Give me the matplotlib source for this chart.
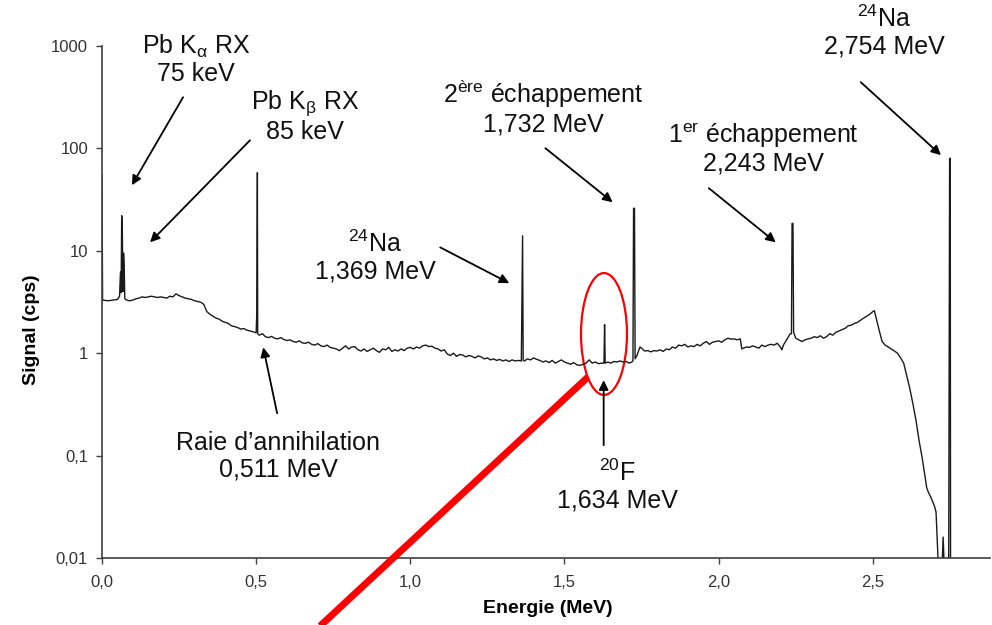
import matplotlib
matplotlib.use('Agg')
import matplotlib.pyplot as plt
from matplotlib.patches import Ellipse
from matplotlib.lines import Line2D

plt.rcParams['font.family'] = ['Liberation Sans', 'DejaVu Sans']
plt.rcParams['mathtext.fontset'] = 'custom'
plt.rcParams['mathtext.rm'] = 'Liberation Sans'
plt.rcParams['mathtext.it'] = 'Liberation Sans:italic'
plt.rcParams['mathtext.bf'] = 'Liberation Sans:bold'
plt.rcParams['mathtext.default'] = 'regular'

# spectre gamma (energie en MeV, signal en cps)
energie = [
    0.000, 0.002, 0.020, 0.035, 0.050, 0.057, 0.060, 0.062, 0.064, 0.066, 0.068, 0.070, 0.072, 0.074,
    0.080, 0.090, 0.100, 0.110, 0.120, 0.130, 0.140, 0.150, 0.160, 0.170, 0.180, 0.190, 0.200, 0.210,
    0.220, 0.230, 0.240, 0.250, 0.260, 0.270, 0.280, 0.290, 0.300, 0.310, 0.320, 0.330, 0.340, 0.350,
    0.360, 0.370, 0.380, 0.390, 0.400, 0.410, 0.420, 0.430, 0.440, 0.450, 0.460, 0.470, 0.480, 0.490,
    0.500, 0.502, 0.503, 0.504, 0.505, 0.510, 0.520, 0.530, 0.540, 0.550, 0.560, 0.570, 0.580, 0.590,
    0.600, 0.610, 0.620, 0.630, 0.640, 0.650, 0.660, 0.670, 0.680, 0.690, 0.700, 0.710, 0.720, 0.730,
    0.740, 0.750, 0.760, 0.770, 0.780, 0.790, 0.800, 0.810, 0.820, 0.830, 0.840, 0.850, 0.860, 0.870,
    0.880, 0.890, 0.900, 0.910, 0.920, 0.930, 0.940, 0.950, 0.960, 0.970, 0.980, 0.990, 1.000, 1.010,
    1.020, 1.030, 1.040, 1.050, 1.060, 1.070, 1.080, 1.090, 1.100, 1.110, 1.120, 1.130, 1.140, 1.150,
    1.160, 1.170, 1.180, 1.190, 1.200, 1.210, 1.220, 1.230, 1.240, 1.250, 1.260, 1.270, 1.280, 1.290,
    1.300, 1.310, 1.320, 1.330, 1.340, 1.350, 1.360, 1.362, 1.364, 1.366, 1.370, 1.380, 1.390, 1.400,
    1.410, 1.420, 1.430, 1.440, 1.450, 1.460, 1.470, 1.480, 1.490, 1.500, 1.510, 1.520, 1.530, 1.540,
    1.550, 1.560, 1.570, 1.580, 1.590, 1.600, 1.610, 1.620, 1.628, 1.630, 1.632, 1.640, 1.650, 1.660,
    1.670, 1.680, 1.690, 1.700, 1.710, 1.718, 1.722, 1.724, 1.727, 1.729, 1.735, 1.740, 1.745, 1.750,
    1.760, 1.770, 1.780, 1.790, 1.800, 1.810, 1.820, 1.830, 1.840, 1.850, 1.860, 1.870, 1.880, 1.890,
    1.900, 1.910, 1.920, 1.930, 1.940, 1.950, 1.960, 1.970, 1.980, 1.990, 2.000, 2.010, 2.020, 2.030,
    2.040, 2.050, 2.060, 2.070, 2.075, 2.080, 2.090, 2.100, 2.110, 2.120, 2.130, 2.140, 2.150, 2.160,
    2.170, 2.180, 2.190, 2.200, 2.205, 2.210, 2.220, 2.232, 2.236, 2.238, 2.241, 2.243, 2.250, 2.260,
    2.270, 2.280, 2.290, 2.300, 2.310, 2.320, 2.330, 2.340, 2.350, 2.360, 2.370, 2.380, 2.390, 2.400,
    2.410, 2.420, 2.430, 2.440, 2.450, 2.460, 2.470, 2.480, 2.490, 2.500, 2.505, 2.520, 2.530, 2.540,
    2.550, 2.560, 2.570, 2.580, 2.590, 2.600, 2.610, 2.620, 2.630, 2.640, 2.650, 2.660, 2.670, 2.675,
    2.680, 2.690, 2.700, 2.705, 2.712, 2.725, 2.728, 2.731, 2.746, 2.747, 2.748, 2.749, 2.751, 2.752,
]
signal = [
    55, 3.3, 3.25, 3.3, 3.35, 3.6, 6.2, 3.9, 22, 16, 4.0, 9.5, 7.3, 3.4,
    3.3, 3.25, 3.3, 3.4, 3.45, 3.55, 3.5, 3.55, 3.6, 3.55, 3.5, 3.55, 3.5, 3.45,
    3.6, 3.55, 3.8, 3.65, 3.55, 3.45, 3.4, 3.35, 3.25, 3.2, 3.15, 3.0, 2.55, 2.4,
    2.3, 2.2, 2.15, 2.05, 2.0, 1.95, 1.85, 1.82, 1.78, 1.72, 1.74, 1.68, 1.65, 1.62,
    1.58, 2.45, 16, 58, 1.55, 1.5, 1.55, 1.45, 1.42, 1.46, 1.4, 1.38, 1.42, 1.36,
    1.33, 1.35, 1.3, 1.28, 1.32, 1.26, 1.25, 1.28, 1.22, 1.2, 1.24, 1.18, 1.16, 1.2,
    1.14, 1.12, 1.1, 1.06, 1.12, 1.18, 1.1, 1.15, 1.16, 1.08, 1.05, 1.1, 1.04, 1.08,
    1.12, 1.06, 1.02, 1.1, 1.08, 1.14, 1.04, 1.08, 1.05, 1.1, 1.06, 1.12, 1.14, 1.1,
    1.15, 1.12, 1.18, 1.2, 1.16, 1.17, 1.12, 1.1, 1.05, 1.08, 0.98, 0.95, 1.0, 0.93,
    0.97, 0.96, 0.92, 0.95, 0.93, 0.9, 0.94, 0.92, 0.88, 0.9, 0.86, 0.88, 0.85, 0.87,
    0.84, 0.86, 0.83, 0.86, 0.84, 0.85, 0.84, 3.3, 14, 0.85, 0.84, 0.88, 0.86, 0.9,
    0.87, 0.85, 0.82, 0.84, 0.81, 0.85, 0.8, 0.83, 0.86, 0.82, 0.8, 0.78, 0.81, 0.77,
    0.76, 0.78, 0.8, 0.86, 0.8, 0.82, 0.79, 0.8, 0.8, 1.9, 0.8, 0.82, 0.8, 0.83,
    0.82, 0.84, 0.82, 0.83, 0.8, 0.82, 0.84, 26, 26, 0.88, 0.95, 1.05, 1.15, 1.12,
    1.05, 1.06, 1.03, 1.06, 1.05, 1.08, 1.04, 1.1, 1.08, 1.15, 1.12, 1.2, 1.18, 1.22,
    1.15, 1.18, 1.16, 1.22, 1.18, 1.25, 1.3, 1.22, 1.28, 1.3, 1.32, 1.28, 1.35, 1.4,
    1.37, 1.38, 1.35, 1.38, 1.1, 1.12, 1.15, 1.14, 1.18, 1.15, 1.12, 1.2, 1.16, 1.2,
    1.22, 1.2, 1.25, 1.15, 1.08, 1.2, 1.35, 1.55, 1.55, 18.5, 18.5, 1.6, 1.4, 1.35,
    1.3, 1.35, 1.38, 1.4, 1.45, 1.42, 1.48, 1.4, 1.45, 1.55, 1.5, 1.6, 1.65, 1.7,
    1.75, 1.85, 1.88, 1.95, 2.0, 2.1, 2.2, 2.3, 2.4, 2.55, 2.6, 1.7, 1.3, 1.2,
    1.15, 1.1, 1.05, 1.0, 0.9, 0.8, 0.6, 0.45, 0.32, 0.22, 0.14, 0.095, 0.06, 0.048,
    0.044, 0.038, 0.032, 0.028, 0.009, 0.009, 0.016, 0.009, 0.009, 0.17, 4.0, 80, 80, 0.009,
]

yticks = [0.01, 0.1, 1, 10, 100, 1000]
ytick_labels = ['0,01', '0,1', '1', '10', '100', '1000']
xticks = [0.0, 0.5, 1.0, 1.5, 2.0, 2.5]
xtick_labels = ['0,0', '0,5', '1,0', '1,5', '2,0', '2,5']

fig = plt.figure(figsize=(9.92, 6.25), dpi=100)
ax = fig.add_axes([0.1028, 0.1072, 0.8952, 0.8192])

ax.plot(energie, signal, color='#1a1a1a', lw=1.0)

ax.set_yscale('log')
ax.set_ylim(0.01, 1000)
ax.set_xlim(0, 2.88)
ax.set_yticks(yticks)
ax.set_yticklabels(ytick_labels)
ax.set_xticks(xticks)
ax.set_xticklabels(xtick_labels)
ax.minorticks_off()

for s in ['top', 'right']:
    ax.spines[s].set_visible(False)
for s in ['left', 'bottom']:
    ax.spines[s].set_color('#404040')
    ax.spines[s].set_linewidth(1.2)
ax.tick_params(axis='both', direction='out', length=4, width=1, color='#404040',
               labelsize=12, labelcolor='#333333')
ax.tick_params(axis='x', pad=8)
ax.tick_params(axis='y', pad=6)

ax.set_ylabel('Signal (cps)', fontsize=14, fontweight='bold', va='center')
ax.yaxis.set_label_coords(-0.079, 0.445)
ax.set_xlabel('Energie (MeV)', fontsize=14, fontweight='bold', va='center')
ax.xaxis.set_label_coords(0.502, -0.0996)

# etiquettes et fleches (texte, debut de fleche, pointe)
notes = [
    ('Pb K$_{\\alpha}$ RX\n75 keV', (0.305, 743), (0.263, 316), (0.097, 43.7)),
    ('Pb K$_{\\beta}$ RX\n85 keV', (0.659, 206), (0.48, 120), (0.156, 12.1)),
    ('$^{24}$Na\n1,369 MeV', (0.886, 8.66), (1.097, 10.8), (1.321, 4.83)),
    ('$^{20}$F\n1,634 MeV', (1.672, 0.0502), (1.627, 0.1264), (1.627, 0.545)),
    ('2$^{ère}$ échappement\n1,732 MeV', (1.432, 252), (1.438, 100.5), (1.656, 29.8)),
    ('1$^{er}$ échappement\n2,243 MeV', (2.146, 100), (1.968, 40.9), (2.185, 12.1)),
    ('$^{24}$Na\n2,754 MeV', (2.536, 1364), (2.461, 443), (2.721, 85.9)),
    ('Raie d\u2019annihilation\n0,511 MeV', (0.571, 0.0986), (0.568, 0.2595), (0.523, 1.14)),
]
for txt, pos, start, tip in notes:
    ax.text(pos[0], pos[1], txt, fontsize=18, ha='center', va='center',
            multialignment='center', linespacing=1.1, color='#111111')
    ax.annotate('', xy=tip, xytext=start, annotation_clip=False,
                arrowprops=dict(arrowstyle='-|>', color='black', lw=1.3,
                                mutation_scale=14, shrinkA=0, shrinkB=0))

# marquage rouge autour du pic du 20F
ax.add_patch(Ellipse((0.5653, 0.4375), 0.0518, 0.238, transform=ax.transAxes,
                     fill=False, edgecolor='red', lw=1.6, clip_on=False))
fig.add_artist(Line2D([0.5927, 0.3075], [0.3968, -0.024], transform=fig.transFigure,
                      color='red', lw=5, solid_capstyle='butt'))

fig.savefig('out.png', dpi=100)
